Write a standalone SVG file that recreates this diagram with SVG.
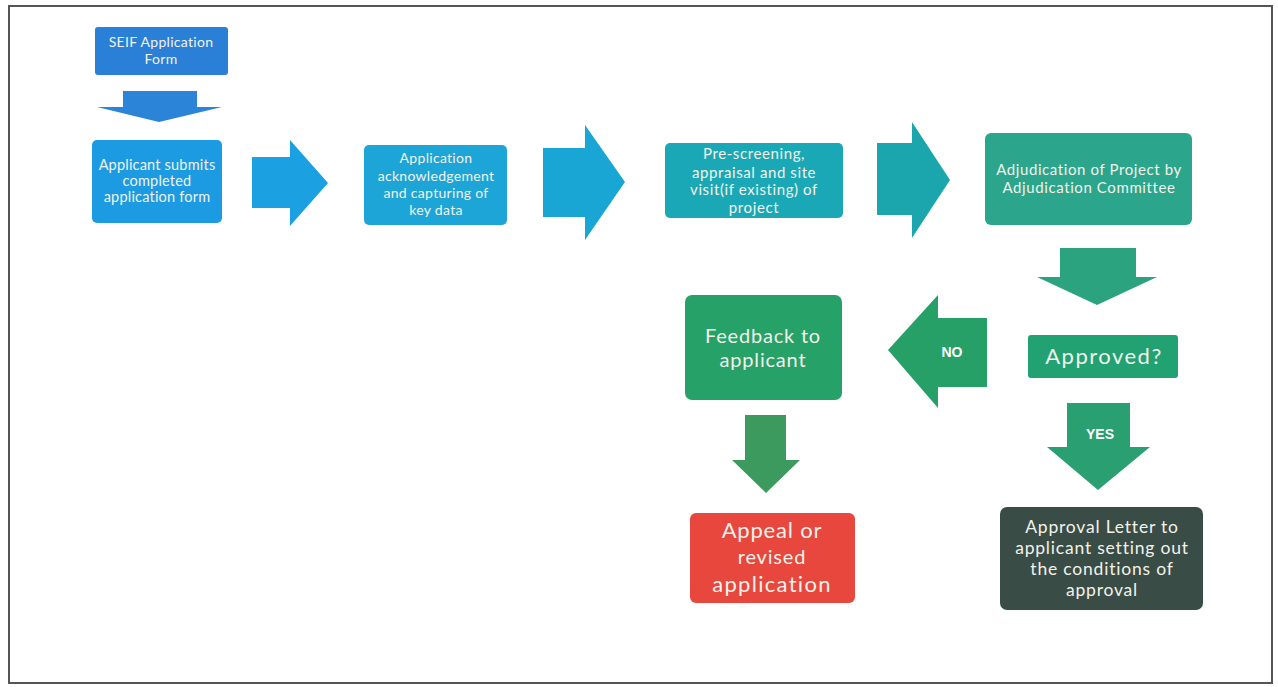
<svg xmlns="http://www.w3.org/2000/svg" width="1278" height="687" viewBox="0 0 1278 687">
<style>
.t{font-family:Lato,"Open Sans","Liberation Sans",sans-serif;fill:#f2f2ea;text-anchor:middle}
.b{font-family:"Liberation Sans",Arial,sans-serif;font-weight:bold;fill:#ffffff;text-anchor:middle;font-size:14px}
</style>
<rect width="1278" height="687" fill="#ffffff"/>
<rect x="9" y="6" width="1263" height="677" fill="none" stroke="#555" stroke-width="2"/>
<g id="connectors">
<polygon points="123,91 197,91 197,107 222,107 159,122 97,107 123,107" fill="#2b84d8"/>
<polygon points="252,157 290,157 290,140 328,183 290,226 290,208 252,208" fill="#1ba0e1"/>
<polygon points="543,148 585,148 585,125 625,182 585,240 585,217 543,217" fill="#1aa6d4"/>
<polygon points="877,143 912,143 912,122 950,180 912,238 912,215 877,215" fill="#1ba6ae"/>
<polygon points="1060,248 1136,248 1136,277 1157,277 1097,305 1037,277 1060,277" fill="#2aa37e"/>
<g id="edge-no">
<polygon points="987,318 938,318 938,295 888,350 938,408 938,387 987,387" fill="#26a067"/>
<text class="b" x="952" y="357">NO</text>
</g>
<g id="edge-yes">
<polygon points="1067,403 1130,403 1130,447 1150,447 1098,490 1047,447 1067,447" fill="#2aa072"/>
<text class="b" x="1100" y="439">YES</text>
</g>
<polygon points="745,415 786,415 786,460 800,460 766,493 732,460 745,460" fill="#3c9a5e"/>
</g>
<g id="seif">
<rect x="95" y="27" width="133" height="48" rx="3" fill="#2a80d6"/>
<text class="t" font-size="14" letter-spacing="0.3" x="161" y="47">SEIF Application</text>
<text class="t" font-size="14" letter-spacing="0.3" x="161" y="64">Form</text>
</g>
<g id="submit">
<rect x="92" y="140" width="130" height="83" rx="5" fill="#1c9be3"/>
<text class="t" font-size="14.5" letter-spacing="0.2" x="157" y="170">Applicant submits</text>
<text class="t" font-size="14.5" letter-spacing="0.2" x="157" y="186">completed</text>
<text class="t" font-size="14.5" letter-spacing="0.2" x="157" y="202">application form</text>
</g>
<g id="ack">
<rect x="364" y="145" width="143" height="80" rx="5" fill="#1ea5d8"/>
<text class="t" font-size="14" letter-spacing="0.3" x="436" y="163">Application</text>
<text class="t" font-size="14" letter-spacing="0.3" x="436" y="181">acknowledgement</text>
<text class="t" font-size="14" letter-spacing="0.3" x="436" y="198">and capturing of</text>
<text class="t" font-size="14" letter-spacing="0.3" x="436" y="215">key data</text>
</g>
<g id="prescreen">
<rect x="665" y="143" width="178" height="75" rx="5" fill="#1aa8b6"/>
<text class="t" font-size="15" letter-spacing="0.6" x="754" y="159">Pre-screening,</text>
<text class="t" font-size="15" letter-spacing="0.6" x="754" y="178">appraisal and site</text>
<text class="t" font-size="15" letter-spacing="0.6" x="754" y="195">visit(if existing) of</text>
<text class="t" font-size="15" letter-spacing="0.6" x="754" y="213">project</text>
</g>
<g id="adjudication">
<rect x="985" y="133" width="207" height="92" rx="6" fill="#2ba58c"/>
<text class="t" font-size="15" letter-spacing="0.6" x="1089" y="175">Adjudication of Project by</text>
<text class="t" font-size="15" letter-spacing="0.6" x="1089" y="193">Adjudication Committee</text>
</g>
<g id="approved">
<rect x="1028" y="335" width="150" height="43" rx="3" fill="#22a172"/>
<text class="t" font-size="22" letter-spacing="1.5" x="1104" y="364">Approved?</text>
</g>
<g id="feedback">
<rect x="685" y="295" width="157" height="105" rx="7" fill="#26a167"/>
<text class="t" font-size="20" letter-spacing="0.8" x="763" y="343">Feedback to</text>
<text class="t" font-size="20" letter-spacing="0.8" x="763" y="367">applicant</text>
</g>
<g id="appeal">
<rect x="690" y="513" width="165" height="90" rx="6" fill="#e8473e"/>
<text class="t" font-size="22" letter-spacing="0.8" x="772" y="538">Appeal or</text>
<text class="t" font-size="20" letter-spacing="0.8" x="772" y="564">revised</text>
<text class="t" font-size="22" letter-spacing="1.3" x="772" y="592">application</text>
</g>
<g id="letter">
<rect x="1000" y="507" width="203" height="103" rx="7" fill="#3a4c46"/>
<text class="t" font-size="17.5" letter-spacing="0.8" x="1102" y="533">Approval Letter to</text>
<text class="t" font-size="17.5" letter-spacing="0.8" x="1102" y="554">applicant setting out</text>
<text class="t" font-size="17.5" letter-spacing="0.8" x="1102" y="575">the conditions of</text>
<text class="t" font-size="17.5" letter-spacing="0.8" x="1102" y="596">approval</text>
</g>
</svg>
